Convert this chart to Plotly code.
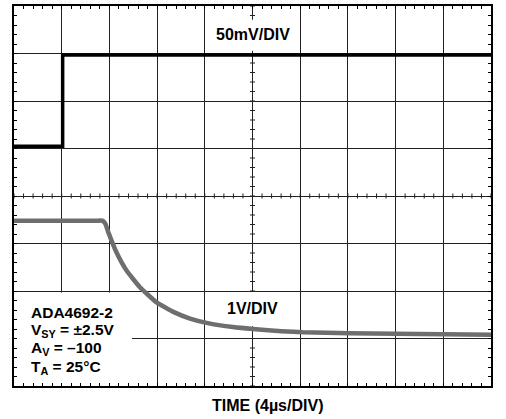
import numpy as np
import plotly.graph_objects as go

# ---- data (x in microseconds, y in scope divisions) ----
upper_t = [0, 4.08, 4.08, 40]
upper_v = [1.05, 1.05, 2.97, 2.97]

lower_t = [0, 6.9, 7.40, 7.65, 7.92, 8.6, 9.44, 10.56, 11.96, 13.36, 14.76, 16.16, 18.36, 20.04, 24.24, 32, 40]
lower_v = [-0.52, -0.52, -0.52, -0.58, -0.77, -1.19, -1.57, -1.92, -2.24, -2.44, -2.58, -2.67, -2.76, -2.80, -2.87, -2.90, -2.92]

x_range = [0, 40]
y_range = [-4, 4]
x_div = 4.0
y_div = 1.0

label_top = "50mV/DIV"
label_bottom = "1V/DIV"
x_title = "TIME (4µs/DIV)"
info_lines = ["ADA4692-2", "V<sub>SY</sub> = ±2.5V", "A<sub>V</sub> = –100", "T<sub>A</sub> = 25°C"]

FONT = "Arial, Liberation Sans, Helvetica, sans-serif"

fig = go.Figure()
fig.add_trace(go.Scatter(x=upper_t, y=upper_v, mode="lines",
                         line=dict(color="#000000", width=3.5), hoverinfo="skip"))
fig.add_trace(go.Scatter(x=lower_t, y=lower_v, mode="lines",
                         line=dict(color="#6e6e6e", width=4.5, shape="spline", smoothing=0.4),
                         hoverinfo="skip"))

shapes = []
# crossing minor ticks on the centre lines
xc = (x_range[0] + x_range[1]) / 2
for yv in np.arange(y_range[0], y_range[1] + 1e-9, y_div / 5):
    shapes.append(dict(type="line", xref="x", yref="y", xsizemode="pixel", xanchor=xc,
                       x0=-2.5, x1=2.5, y0=yv, y1=yv, layer="between",
                       line=dict(color="#222", width=1)))
for xv in np.arange(x_range[0], x_range[1] + 1e-9, x_div / 5):
    shapes.append(dict(type="line", xref="x", yref="y", ysizemode="pixel", yanchor=0,
                       y0=-2.5, y1=2.5, x0=xv, x1=xv, layer="between",
                       line=dict(color="#222", width=1)))
# white boxes behind the labels
for (x0, x1, y0, y1) in [(16.6, 23.5, 3.06, 3.71), (17.4, 22.6, -2.74, -2.02), (0, 9.9, -4, -2.03)]:
    shapes.append(dict(type="rect", xref="x", yref="y", x0=x0, x1=x1, y0=y0, y1=y1,
                       layer="between", fillcolor="white", line=dict(width=0)))

annotations = [
    dict(x=20, y=3.40, xref="x", yref="y", text="<b>%s</b>" % label_top, showarrow=False,
         xanchor="center", yanchor="middle", font=dict(family=FONT, size=16, color="black")),
    dict(x=20, y=-2.36, xref="x", yref="y", text="<b>%s</b>" % label_bottom, showarrow=False,
         xanchor="center", yanchor="middle", font=dict(family=FONT, size=16, color="black")),
    dict(x=0.532, y=-0.051, xref="paper", yref="paper", text="<b>%s</b>" % x_title, showarrow=False,
         xanchor="center", yanchor="middle", font=dict(family=FONT, size=16, color="black")),
]
info_y = [-2.46, -2.83, -3.21, -3.60]
for t, yv in zip(info_lines, info_y):
    annotations.append(dict(x=1.26, y=yv, xref="x", yref="y", text="<b>%s</b>" % t,
                            showarrow=False, xanchor="left", yanchor="middle",
                            font=dict(family=FONT, size=15.5, color="black")))

axis_common = dict(showline=True, linewidth=2, linecolor="black", mirror="ticks",
                   ticks="inside", ticklen=3, tickcolor="black", tickwidth=1,
                   showticklabels=False, showgrid=True, gridcolor="#222", gridwidth=1,
                   zeroline=False, fixedrange=True)

fig.update_layout(
    width=506, height=419, autosize=False,
    margin=dict(l=14, r=15, t=4, b=33),
    paper_bgcolor="white", plot_bgcolor="white",
    showlegend=False,
    xaxis=dict(range=x_range, dtick=x_div, tick0=0,
               minor=dict(dtick=x_div / 5, ticks="inside", ticklen=3, tickcolor="black", showgrid=False),
               **axis_common),
    yaxis=dict(range=y_range, dtick=y_div, tick0=0,
               minor=dict(dtick=y_div / 5, ticks="inside", ticklen=3, tickcolor="black", showgrid=False),
               **axis_common),
    shapes=shapes,
    annotations=annotations,
)

fig.write_html("out.html", config={"displayModeBar": False, "staticPlot": True},
               post_script="document.body.style.margin='0';document.body.style.overflow='hidden';")
